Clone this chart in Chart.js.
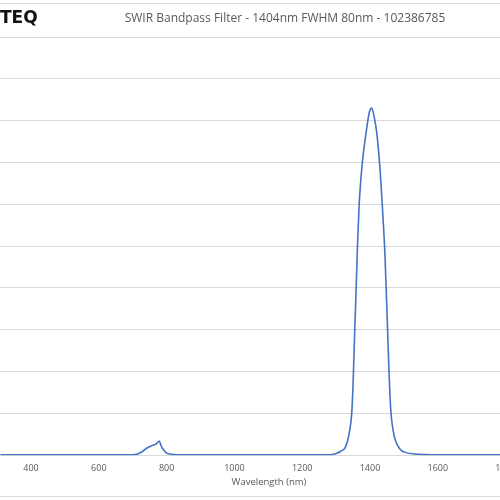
<!DOCTYPE html>
<html><head><script src="https://cdn.jsdelivr.net/npm/chart.js@4"></script>
<style>html,body{margin:0;padding:0;overflow:hidden;width:500px;height:500px;background:#fff}
#wrap{position:absolute;left:0;top:0;width:540px;height:500px}</style></head>
<body><div id="wrap"><canvas id="c" width="540" height="500"></canvas></div>
<script>
const wavelengths=[310,400,500,600,700,712,725,735,746,758,771,778,783,788,795,800,815,830,900,1000,1100,1200,1280,1300,1315,1328,1338,1346,1350,1355,1360,1363,1368,1373,1380,1390,1398,1405,1412,1420,1429,1436,1444,1451,1456,1461,1468,1475,1488,1500,1530,1600,1700,1800,1900];
const transmission=[0.1,0.1,0.1,0.1,0.1,0.2,0.7,1.3,1.9,2.3,2.8,3.4,2.4,1.6,0.9,0.5,0.2,0.1,0.1,0.1,0.1,0.1,0.1,0.4,1,2,5,10,17,30,42,50,60,66,72,78,82,83,81,77,69,60,48,32,20,11,6,3.5,1.5,0.8,0.3,0.1,0.1,0.1,0.1];
const xTicks=[400,600,800,1000,1200,1400,1600,1800];
const chartTitle="SWIR Bandpass Filter - 1404nm FWHM 80nm - 102386785";
const xTitle="Wavelength (nm)";
const deco={id:'deco',afterDraw(ch){const c=ch.ctx;c.save();
c.strokeStyle='#d9d9d9';c.lineWidth=1;
c.beginPath();c.moveTo(0,3.5);c.lineTo(540,3.5);c.moveTo(0,496.5);c.lineTo(540,496.5);c.stroke();
c.fillStyle='#595959';c.font='12px "Open Sans", "DejaVu Sans", sans-serif';c.textAlign='center';c.textBaseline='middle';
c.fillText(chartTitle,285,19);
c.fillStyle='#111';c.font='bold 17px "DejaVu Sans", sans-serif';c.textAlign='left';
c.fillText('TEQ',0,19);
c.fillStyle='#595959';c.font='9.5px "Open Sans", "DejaVu Sans", sans-serif';c.textAlign='center';
c.fillText(xTitle,269,482);
c.restore();}};
new Chart(document.getElementById('c'),{type:'line',
data:{datasets:[{data:wavelengths.map((w,i)=>({x:w,y:transmission[i]})),borderColor:'#4472C4',borderWidth:1.6,pointRadius:0,cubicInterpolationMode:'monotone',fill:false}]},
options:{animation:false,responsive:false,events:[],
layout:{padding:{top:37,bottom:26,left:0,right:0}},
plugins:{legend:{display:false},tooltip:{enabled:false}},
scales:{x:{type:'linear',min:308.5,max:308.5+540/0.339,
afterBuildTicks:a=>{a.ticks=xTicks.map(v=>({value:v}));},
grid:{display:false},border:{color:'#d9d9d9'},
ticks:{color:'#595959',font:{size:9,family:'"Open Sans", "DejaVu Sans", sans-serif'},maxRotation:0,autoSkip:false,padding:0,callback:v=>String(v)}},
y:{min:0,max:100,display:true,
afterFit:a=>{a.width=0;},
grid:{color:'#d9d9d9',drawTicks:false},border:{display:false},
ticks:{stepSize:10,display:false}}}},
plugins:[deco]});
</script></body></html>
